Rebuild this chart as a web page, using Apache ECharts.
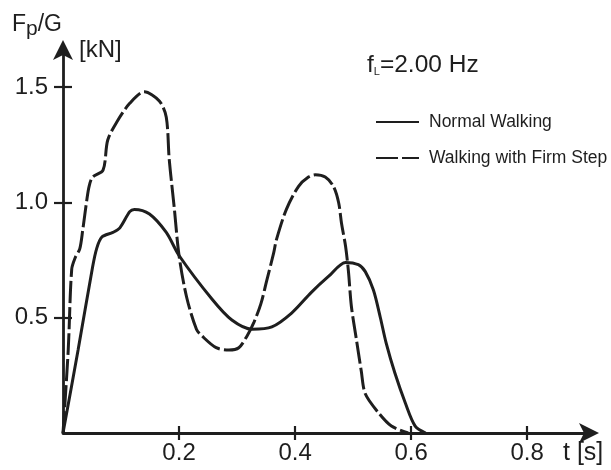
<!DOCTYPE html>
<html>
<head>
<meta charset="utf-8">
<script src="https://cdn.jsdelivr.net/npm/echarts@6/dist/echarts.min.js"></script>
<style>
  html, body { margin: 0; padding: 0; background: #fff; }
  #chart { width: 611px; height: 470px; }
</style>
</head>
<body>
<div id="chart"></div>
<script>
// Time axis (s) and load factor values for each walking mode
const tNormal = [0, 0.026, 0.051, 0.058, 0.067, 0.086, 0.098, 0.115, 0.123, 0.149,
  0.178, 0.2, 0.257, 0.291, 0.326, 0.36, 0.394, 0.428, 0.458, 0.487,
  0.509, 0.521, 0.535, 0.547, 0.557, 0.572, 0.59, 0.607, 0.625];
const vNormal = [0, 0.36, 0.72, 0.80, 0.85, 0.87, 0.89, 0.96, 0.97, 0.95,
  0.87, 0.77, 0.58, 0.49, 0.45, 0.46, 0.52, 0.61, 0.68, 0.74,
  0.73, 0.70, 0.62, 0.50, 0.39, 0.26, 0.13, 0.03, 0];

const tFirm = [0, 0.009, 0.015, 0.021, 0.029, 0.034, 0.041, 0.045, 0.051, 0.069,
  0.077, 0.093, 0.115, 0.14, 0.166, 0.178, 0.183, 0.192, 0.2, 0.213,
  0.23, 0.24, 0.264, 0.286, 0.303, 0.317, 0.329, 0.341, 0.351, 0.363,
  0.368, 0.385, 0.406, 0.423, 0.435, 0.452, 0.466, 0.475, 0.48, 0.487,
  0.492, 0.497, 0.506, 0.514, 0.521, 0.543, 0.566, 0.595];
const vFirm = [0, 0.36, 0.71, 0.76, 0.80, 0.88, 1.01, 1.07, 1.11, 1.14,
  1.27, 1.35, 1.43, 1.48, 1.44, 1.37, 1.19, 0.97, 0.77, 0.59,
  0.45, 0.42, 0.37, 0.36, 0.37, 0.42, 0.48, 0.56, 0.66, 0.78,
  0.84, 0.97, 1.07, 1.11, 1.12, 1.11, 1.07, 1.0, 0.91, 0.81,
  0.70, 0.55, 0.40, 0.27, 0.17, 0.09, 0.03, 0];

const xTicks = [0.2, 0.4, 0.6, 0.8];
const yTicks = [0.5, 1.0, 1.5];
const seriesNames = ['Normal Walking', 'Walking with Firm Step'];

const ink = '#1e1e1e';
const font = '"Liberation Sans", Arial, sans-serif';

const zip = (xs, ys) => xs.map((x, i) => [x, ys[i]]);

const chart = echarts.init(document.getElementById('chart'), null, { renderer: 'canvas' });

const xBase = { type: 'value', min: 0, max: 0.91, splitLine: { show: false } };
const yBase = { type: 'value', min: 0, max: 1.67, splitLine: { show: false } };

// Arrow-headed axis line shared by both primary axes
const arrowLine = {
  show: true,
  lineStyle: { color: ink, width: 2.8 },
  symbol: ['none', 'arrow'],
  symbolSize: [15, 20],
  symbolOffset: [0, 8]
};

chart.setOption({
  backgroundColor: '#fff',
  animation: false,
  grid: { left: 63, right: 20, top: 48, bottom: 37, containLabel: false },
  xAxis: [
    Object.assign({}, xBase, {
      position: 'bottom',
      axisLine: arrowLine,
      axisTick: { show: true, inside: false, length: 7, customValues: xTicks,
        lineStyle: { color: ink, width: 2.2 } },
      axisLabel: { show: true, customValues: xTicks, margin: 8, color: ink,
        fontSize: 24, fontFamily: font, formatter: v => v.toFixed(1) }
    }),
    // second tick set pointing upward so ticks cross the axis line
    Object.assign({}, xBase, {
      position: 'top',
      axisLine: { show: false, onZero: true },
      axisTick: { show: true, inside: false, length: 7, customValues: xTicks,
        lineStyle: { color: ink, width: 2.2 } },
      axisLabel: { show: false }
    })
  ],
  yAxis: [
    Object.assign({}, yBase, {
      position: 'left',
      axisLine: arrowLine,
      axisTick: { show: true, inside: false, length: 9, customValues: yTicks,
        lineStyle: { color: ink, width: 2.2 } },
      axisLabel: { show: true, customValues: yTicks, margin: 15, color: ink,
        fontSize: 24, fontFamily: font, formatter: v => v.toFixed(1) }
    }),
    // second tick set pointing right so ticks cross the axis line
    Object.assign({}, yBase, {
      position: 'right',
      axisLine: { show: false, onZero: true },
      axisTick: { show: true, inside: false, length: 9, customValues: yTicks,
        lineStyle: { color: ink, width: 2.2 } },
      axisLabel: { show: false }
    })
  ],
  legend: {
    orient: 'vertical',
    left: 375,
    top: 112,
    padding: 0,
    itemWidth: 43,
    itemHeight: 20,
    itemGap: 16,
    data: seriesNames,
    itemStyle: { opacity: 0 },
    textStyle: { color: ink, fontSize: 17.5, lineHeight: 20, fontFamily: font,
      padding: [0, 0, 0, 5] }
  },
  graphic: [
    {
      type: 'text', left: 12, top: 13,
      style: {
        text: '{a|F}{b|p}{a|/G}',
        rich: {
          a: { fontSize: 23, fontFamily: font, fill: ink },
          b: { fontSize: 21, fontFamily: font, fill: ink, padding: [9, 0, 0, 0] }
        }
      }
    },
    { type: 'text', left: 79, top: 38,
      style: { text: '[kN]', fontSize: 24, fontFamily: font, fill: ink } },
    { type: 'text', left: 563, top: 441,
      style: { text: 't [s]', fontSize: 25, fontFamily: font, fill: ink } },
    {
      type: 'text', left: 367, top: 53,
      style: {
        text: '{a|f}{s|L}{a|=2.00 Hz}',
        rich: {
          a: { fontSize: 24.5, fontFamily: font, fill: ink },
          s: { fontSize: 11, fontFamily: font, fill: ink, padding: [12, 0, 0, 0] }
        }
      }
    }
  ],
  series: [
    {
      name: seriesNames[0], type: 'line', xAxisIndex: 0, yAxisIndex: 0,
      data: zip(tNormal, vNormal), smooth: 0.3, symbol: 'none',
      lineStyle: { color: ink, width: 3, type: 'solid' },
      itemStyle: { color: ink }
    },
    {
      name: seriesNames[1], type: 'line', xAxisIndex: 0, yAxisIndex: 0,
      data: zip(tFirm, vFirm), smooth: 0.3, symbol: 'none',
      lineStyle: { color: ink, width: 3, type: [22, 4] },
      itemStyle: { color: ink }
    }
  ]
});
</script>
</body>
</html>
